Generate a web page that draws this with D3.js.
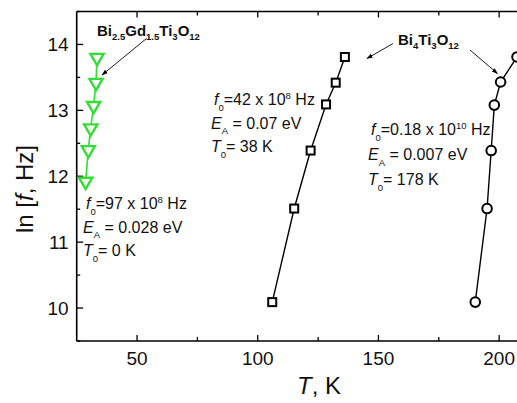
<!DOCTYPE html>
<html>
<head>
<meta charset="utf-8">
<script src="https://cdn.jsdelivr.net/npm/d3@7"></script>
<style>
  html, body { margin: 0; padding: 0; background: #fff; }
  svg { display: block; }
  text { font-family: Arial, "Liberation Sans", sans-serif; fill: #111; }
</style>
</head>
<body>
<svg id="chart" width="517" height="403"></svg>
<script>
// Temperature dependence of ln f for the three samples
const gdT   = [33.4, 33.0, 32.0, 30.8, 29.8, 28.7];
const gdLnF = [13.80, 13.42, 13.07, 12.73, 12.40, 11.92];

const btoSqT   = [106.0, 115.1, 121.9, 128.3, 132.3, 136.1];
const btoSqLnF = [10.09, 11.51, 12.39, 13.09, 13.42, 13.81];

const btoCiT   = [190.1, 195.0, 196.7, 198.0, 200.6, 207.4];
const btoCiLnF = [10.09, 11.51, 12.39, 13.08, 13.43, 13.81];

const xTicks = [50, 100, 150, 200];
const xMinorTicks = [75, 125, 175, 225];
const yTicks = [10, 11, 12, 13, 14];
const yMinorTicks = [9.5, 10.5, 11.5, 12.5, 13.5, 14.5];

const svg = d3.select("#chart");
const plotLeft = 76.7, plotTop = 11.5, plotBottom = 341;
const pxPerK = 2.414;

const x = d3.scaleLinear().domain([25, 250]).range([plotLeft, plotLeft + 225 * pxPerK]);
const y = d3.scaleLinear().domain([9.5, 14.5]).range([plotBottom, plotTop]);

const green = "#33dd33";

// frame lines
const frame = svg.append("g").attr("stroke", "#000").attr("stroke-width", 1.6);
frame.append("line").attr("x1", plotLeft).attr("x2", 520).attr("y1", plotBottom).attr("y2", plotBottom);
frame.append("line").attr("x1", plotLeft).attr("x2", 520).attr("y1", plotTop).attr("y2", plotTop);
frame.append("line").attr("x1", plotLeft).attr("x2", plotLeft).attr("y1", plotTop).attr("y2", plotBottom);

// inward ticks
const ticks = svg.append("g").attr("stroke", "#000").attr("stroke-width", 1.3);
xTicks.forEach(t => {
  ticks.append("line").attr("x1", x(t)).attr("x2", x(t)).attr("y1", plotBottom).attr("y2", plotBottom - 6);
  ticks.append("line").attr("x1", x(t)).attr("x2", x(t)).attr("y1", plotTop).attr("y2", plotTop + 6);
});
xMinorTicks.forEach(t => {
  ticks.append("line").attr("x1", x(t)).attr("x2", x(t)).attr("y1", plotBottom).attr("y2", plotBottom - 4);
  ticks.append("line").attr("x1", x(t)).attr("x2", x(t)).attr("y1", plotTop).attr("y2", plotTop + 4);
});
yTicks.forEach(v => {
  ticks.append("line").attr("x1", plotLeft).attr("x2", plotLeft + 6.5).attr("y1", y(v)).attr("y2", y(v));
});
yMinorTicks.forEach(v => {
  ticks.append("line").attr("x1", plotLeft).attr("x2", plotLeft + 3.5).attr("y1", y(v)).attr("y2", y(v));
});

// tick labels
svg.append("g").selectAll("text").data(xTicks).join("text")
  .attr("x", d => x(d)).attr("y", plotBottom + 24)
  .attr("text-anchor", "middle").attr("font-size", 19)
  .text(d => d);
svg.append("g").selectAll("text").data(yTicks).join("text")
  .attr("x", plotLeft - 8).attr("y", d => y(d) + 7)
  .attr("text-anchor", "end").attr("font-size", 19)
  .text(d => d);

// axis titles
const xt = svg.append("text").attr("x", 319).attr("y", 394)
  .attr("text-anchor", "middle").attr("font-size", 24);
xt.append("tspan").attr("font-style", "italic").text("T");
xt.append("tspan").text(", K");

const yt = svg.append("text")
  .attr("transform", "translate(33,189) rotate(-90)")
  .attr("text-anchor", "middle").attr("font-size", 24);
yt.append("tspan").text("ln [");
yt.append("tspan").attr("font-style", "italic").text("f");
yt.append("tspan").text(", Hz]");

// series lines
const line = d3.line().x(d => x(d[0])).y(d => y(d[1]));
const gd = d3.zip(gdT, gdLnF);
const sq = d3.zip(btoSqT, btoSqLnF);
const ci = d3.zip(btoCiT, btoCiLnF);

svg.append("path").datum(gd).attr("d", line)
  .attr("fill", "none").attr("stroke", green).attr("stroke-width", 1.6);
svg.append("path").datum(sq).attr("d", line)
  .attr("fill", "none").attr("stroke", "#000").attr("stroke-width", 1.4);
svg.append("path").datum(ci).attr("d", line)
  .attr("fill", "none").attr("stroke", "#000").attr("stroke-width", 1.4);

// markers
const triDown = d3.symbol().type(d3.symbolTriangle).size(75);
svg.append("g").selectAll("path").data(gd).join("path")
  .attr("d", triDown)
  .attr("transform", d => `translate(${x(d[0])},${y(d[1])}) rotate(180)`)
  .attr("fill", "#fff").attr("stroke", green).attr("stroke-width", 2.4);

svg.append("g").selectAll("rect").data(sq).join("rect")
  .attr("x", d => x(d[0]) - 4).attr("y", d => y(d[1]) - 4)
  .attr("width", 8).attr("height", 8)
  .attr("fill", "#fff").attr("stroke", "#000").attr("stroke-width", 2);

svg.append("g").selectAll("circle").data(ci).join("circle")
  .attr("cx", d => x(d[0])).attr("cy", d => y(d[1])).attr("r", 4.8)
  .attr("fill", "#fff").attr("stroke", "#000").attr("stroke-width", 2);

// annotation blocks: f0, activation energy, T0
function paramBlock(px, py, f0, f0exp, ea, t0, dyLine) {
  const g = svg.append("g").attr("font-size", 16);
  const l1 = g.append("text").attr("x", px + 3).attr("y", py);
  l1.append("tspan").attr("font-style", "italic").text("f");
  l1.append("tspan").attr("font-size", 9.5).attr("dy", 5.5).text("0");
  l1.append("tspan").attr("dy", -5.5).text("=" + f0 + " x 10");
  l1.append("tspan").attr("font-size", 9.5).attr("dy", -6.5).text(f0exp);
  l1.append("tspan").attr("dy", 6.5).text(" Hz");

  const l2 = g.append("text").attr("x", px).attr("y", py + dyLine);
  l2.append("tspan").attr("font-style", "italic").text("E");
  l2.append("tspan").attr("font-size", 9.5).attr("dy", 5.5).text("A");
  l2.append("tspan").attr("dy", -5.5).text(" = " + ea + " eV");

  const l3 = g.append("text").attr("x", px).attr("y", py + 2 * dyLine);
  l3.append("tspan").attr("font-style", "italic").text("T");
  l3.append("tspan").attr("font-size", 9.5).attr("dy", 5.5).text("0");
  l3.append("tspan").attr("dy", -5.5).text("= " + t0 + " K");
}
paramBlock(83, 209, "97", "8", "0.028", "0", 23.5);
paramBlock(211, 105, "42", "8", "0.07", "38", 23.7);
paramBlock(368, 135, "0.18", "10", "0.007", "178", 25);

// compound labels with chemical subscripts
function formula(px, py, parts) {
  const t = svg.append("text").attr("x", px).attr("y", py)
    .attr("font-size", 15).attr("font-weight", "bold");
  let shift = 0;
  parts.forEach(([s, sub]) => {
    t.append("tspan").attr("dy", -shift).attr("font-size", 15).text(s);
    t.append("tspan").attr("dy", 4).attr("font-size", 9.5).text(sub);
    shift = 4;
  });
}
formula(97, 35.5, [["Bi", "2.5"], ["Gd", "1.5"], ["Ti", "3"], ["O", "12"]]);
formula(398, 44.5, [["Bi", "4"], ["Ti", "3"], ["O", "12"]]);

// arrows
svg.append("defs").append("marker")
  .attr("id", "head").attr("viewBox", "0 0 10 10")
  .attr("refX", 9).attr("refY", 5)
  .attr("markerWidth", 7).attr("markerHeight", 7)
  .attr("orient", "auto")
  .append("path").attr("d", "M0,1.5 L10,5 L0,8.5 Z").attr("fill", "#000");

const arrows = [
  [146.5, 38.5, 102, 75],
  [393, 43.5, 367, 58.5],
  [470, 50, 497.5, 73.5]
];
svg.append("g").selectAll("line").data(arrows).join("line")
  .attr("x1", d => d[0]).attr("y1", d => d[1])
  .attr("x2", d => d[2]).attr("y2", d => d[3])
  .attr("stroke", "#000").attr("stroke-width", 0.9)
  .attr("marker-end", "url(#head)");
</script>
</body>
</html>
